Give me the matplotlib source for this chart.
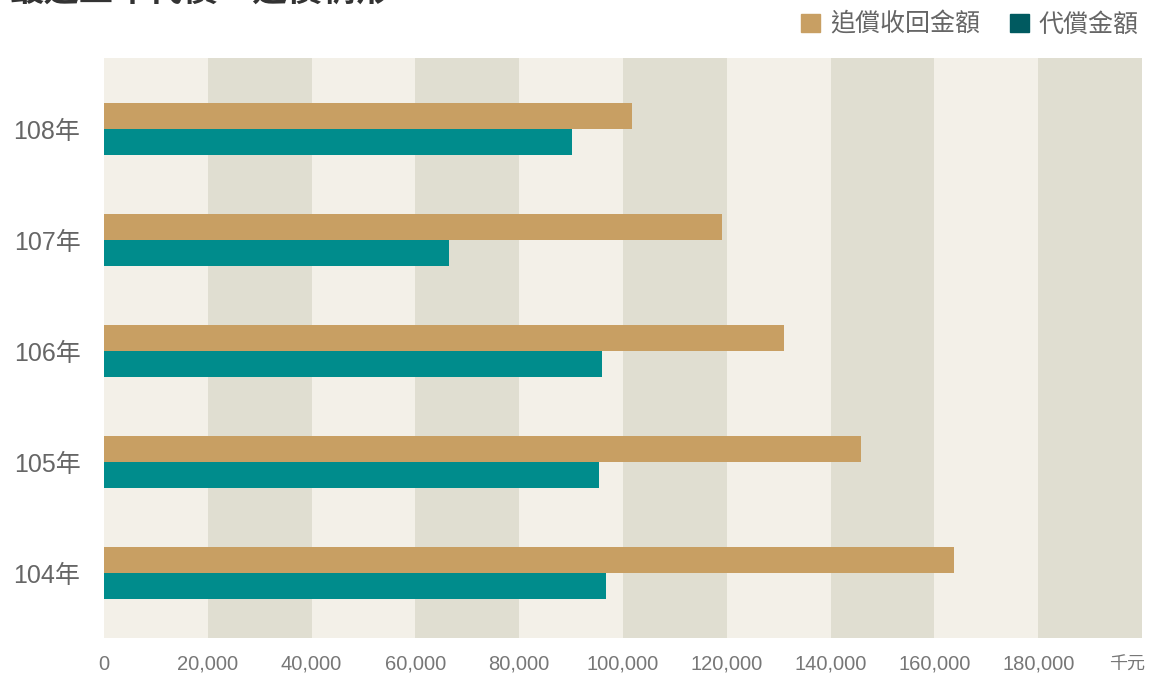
import matplotlib
matplotlib.use("Agg")
import matplotlib.pyplot as plt
from matplotlib.patches import Patch

plt.rcParams['font.family'] = ['Liberation Sans', 'Noto Sans CJK TC', 'DejaVu Sans']

categories = ['104年', '105年', '106年', '107年', '108年']
recovered = [163800, 145900, 131000, 119100, 101700]   # 追償收回金額
paid = [96700, 95400, 96000, 66500, 90200]              # 代償金額
x_ticks = [0, 20000, 40000, 60000, 80000, 100000, 120000, 140000, 160000, 180000]
x_tick_labels = ['0', '20,000', '40,000', '60,000', '80,000', '100,000',
                 '120,000', '140,000', '160,000', '180,000']
unit_label = '千元'
series_names = ['追償收回金額', '代償金額']
title = '最近五年代償、追償情形'

W, H = 1153, 680
fig = plt.figure(figsize=(W / 100, H / 100), dpi=100)
ax = fig.add_axes([104 / W, (H - 638) / H, (1142 - 104) / W, (638 - 58) / H])

light, dark = '#F3F0E8', '#E0DED1'
for i in range(10):
    ax.axvspan(i * 20000, (i + 1) * 20000, color=light if i % 2 == 0 else dark, lw=0, zorder=0)

tan, teal, teal_dark = '#C89F63', '#008C8C', '#005A60'
pos = list(range(len(categories)))
bh = 0.234
ax.barh([p + bh / 2 for p in pos], recovered, height=bh, color=tan, zorder=2)
ax.barh([p - bh / 2 for p in pos], paid, height=bh, color=teal, zorder=2)

ax.set_xlim(0, 200000)
ax.set_ylim(-0.585, 4.64)
ax.set_yticks(pos)
ax.set_yticklabels(categories, fontsize=18, color='#666666')
ax.set_xticks(x_ticks)
ax.set_xticklabels(x_tick_labels, fontsize=14.5, color='#777777')
ax.tick_params(axis='both', length=0)
ax.tick_params(axis='x', pad=12)
ax.tick_params(axis='y', pad=17)
for s in ax.spines.values():
    s.set_visible(False)

fig.text(1127 / W, 1 - 665 / H, unit_label, fontsize=13, color='#777777', ha='center', va='center')

handles = [Patch(color=tan), Patch(color=teal_dark)]
fig.legend(handles, series_names, loc='upper right', bbox_to_anchor=(1.007, 1.015),
           ncol=2, frameon=False, fontsize=18, handlelength=0.75, handleheight=0.75,
           handletextpad=0.4, columnspacing=1.2, labelcolor='#666666')

fig.text(0.008, 1.012, title, fontsize=25, fontweight='bold', color='#333333', va='center', ha='left')

fig.savefig('out.png', dpi=100)
